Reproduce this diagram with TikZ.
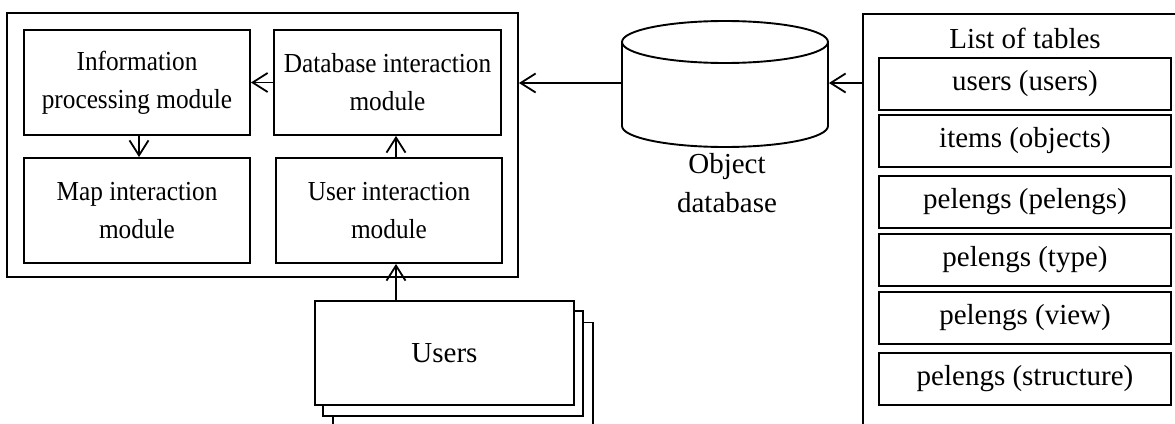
\documentclass[tikz,border=0pt]{standalone}
\usepackage{fontspec}
\setmainfont{Liberation Serif}
\newfontfamily\modfont[FakeStretch=0.92]{Liberation Serif}
\usetikzlibrary{arrows.meta}
\begin{document}
\begin{tikzpicture}[x=1pt,y=1pt,line width=1.9pt,
  box/.style={draw, rectangle, inner sep=0pt, align=center, fill=white},
  modbox/.style={box, minimum height=105, font=\modfont\fontsize{27.5}{38}\selectfont},
  conn/.style={-{Straight Barb[length=15pt,width=19pt,line width=1.8pt]}},
  every node/.append style={font=\fontsize{29}{39}\selectfont}]
\useasboundingbox (0,0) rectangle (1175,-423);
\clip (0,0) rectangle (1175,-423);
% system block
\node[box, minimum width=511, minimum height=264] (sys) at (262.5,-145) {};
\node[modbox, minimum width=226] (info) at (137,-82.5) {Information\\processing module};
\node[modbox, minimum width=227] (dbm) at (387.5,-82.5) {Database interaction\\module};
\node[modbox, minimum width=226] (map) at (137,-210.5) {Map interaction\\module};
\node[modbox, minimum width=226] (user) at (389,-210.5) {User interaction\\module};
\coordinate (ax) at (396,0);
\coordinate (bx) at (139,0);
\draw[conn] (dbm.west) -- (info.east);
\draw[conn] (info.south -| bx) -- (map.north -| bx);
\draw[conn] (user.north -| ax) -- (dbm.south -| ax);
% users stack
\node[box, minimum width=260, minimum height=105] (users3) at (463,-375) {};
\node[box, minimum width=260, minimum height=105] (users2) at (453,-363.5) {};
\node[box, minimum width=259, minimum height=104] (users) at (444.5,-353) {Users};
\draw[conn] (users.north -| ax) -- (user.south -| ax);
% database cylinder
\draw[fill=white] (622,-42) -- (622,-126) arc[start angle=180,end angle=360,x radius=103,y radius=21] -- (828,-42);
\draw (725,-42) ellipse[x radius=103,y radius=21];
\node[inner sep=0pt, minimum width=206, minimum height=128] (db) at (725,-83) {};
\node[align=center] (dblabel) at (727,-183) {Object\\database};
% tables list
\node[box, minimum width=332, minimum height=431] (tbl) at (1029,-229.5) {};
\node (tbltitle) at (1025,-38) {List of tables};
\node[box, minimum width=292, minimum height=52] (t1) at (1025,-84) {users (users)};
\node[box, minimum width=292, minimum height=52] (t2) at (1025,-141) {items (objects)};
\node[box, minimum width=292, minimum height=52] (t3) at (1025,-202) {pelengs (pelengs)};
\node[box, minimum width=292, minimum height=52] (t4) at (1025,-260) {pelengs (type)};
\node[box, minimum width=292, minimum height=52] (t5) at (1025,-318) {pelengs (view)};
\node[box, minimum width=292, minimum height=52] (t6) at (1025,-379) {pelengs (structure)};
\draw[conn] (db.west) -- (sys.east |- db.west);
\draw[conn] (tbl.west |- db.east) -- (db.east);
\end{tikzpicture}
\end{document}
